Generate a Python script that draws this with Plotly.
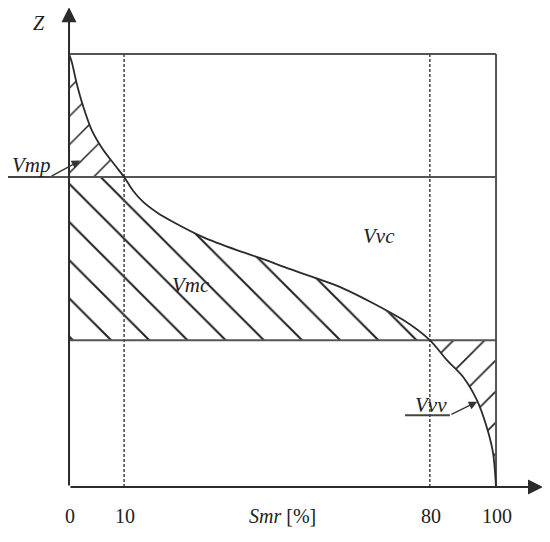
import plotly.graph_objects as go

# ---------------- data (diagram units: box spans 0..100 in both directions) ----------------
# Abbott-Firestone (bearing area) curve
curve_smr = [0, 0.63, 1.8, 3.35, 5.32, 8.03, 10.77, 12.9, 15.0, 17.3, 20.6, 24.4, 31.4, 39.3, 44.7,
             51.8, 63.9, 78.2, 84.5, 88.5, 92.3, 95.5, 97.8, 99.3, 100]
curve_z = [100, 98.2, 93.2, 87.8, 82.4, 77.8, 74.3, 71.6, 68.4, 65.9, 63.4, 61.2, 57.7, 54.7, 52.9,
           50.3, 46.0, 38.6, 33.9, 29.3, 25.4, 20.1, 13.9, 7.9, 0]

# schematic positions of the tick marks on the Smr axis and their labels
tick_pos = [0, 12.9, 84.5, 100]
tick_labels = ["0", "10", "80", "100"]
mr1_pos = 12.9   # Smr = 10 %
mr2_pos = 84.5   # Smr = 80 %

z_top = 100
z_vmp = 71.6
z_vvc = 33.9

region_labels = ["Vmp", "Vmc", "Vvc", "Vvv"]
region_label_pos = [(-8.9, 74.3), (28.6, 46.7), (72.6, 58.0), (84.8, 19.0)]

# page has an 8 px body margin -> ranges chosen so the box lands where it is in the picture
x_range = [-14.29, 112.64]
y_range = [-12.70, 110.62]
x_arrow_tip = 111.0
y_arrow_tip = 110.8

INK = "#2b2b2b"
BOX = "#555555"
FONT = "Liberation Serif"

fig = go.Figure()

pts = list(zip(curve_smr, curve_z))
i_vmp = curve_smr.index(mr1_pos)
i_vvc = curve_smr.index(mr2_pos)

# ---------------- hatched regions ----------------
def hatch(poly, shape, size):
    xs = [p[0] for p in poly] + [poly[0][0]]
    ys = [p[1] for p in poly] + [poly[0][1]]
    fig.add_trace(go.Scatter(
        x=xs, y=ys, mode="lines", fill="toself", line=dict(width=0, color="rgba(0,0,0,0)"),
        fillcolor="rgba(0,0,0,0)",
        fillpattern=dict(shape=shape, size=size, solidity=0.075, fgcolor="#222222",
                         bgcolor="rgba(0,0,0,0)", fillmode="replace"),
        hoverinfo="skip", showlegend=False))

# Vmp: above Smr 10% level, left of curve
hatch(pts[:i_vmp + 1] + [(0, z_vmp)], "/", 20)
# Vmc: between the two levels, left of curve
hatch([(0, z_vmp)] + pts[i_vmp:i_vvc + 1] + [(0, z_vvc)], "\\", 27)
# Vvv: below the 80% level, right of curve
hatch(pts[i_vvc:] + [(100, z_vvc)], "/", 22)

# ---------------- box, levels, dashed lines ----------------
def seg(x, y, color=BOX, width=2, dash=None):
    fig.add_trace(go.Scatter(x=x, y=y, mode="lines",
                             line=dict(color=color, width=width, dash=dash),
                             hoverinfo="skip", showlegend=False))

seg([0, 100], [z_top, z_top])
seg([100, 100], [0, z_top])
seg([-14.5, 100], [z_vmp, z_vmp])
seg([0, 100], [z_vvc, z_vvc])
seg([mr1_pos, mr1_pos], [0, z_top], color="#444444", width=1.5, dash="3px,2px")
seg([mr2_pos, mr2_pos], [0, z_top], color="#444444", width=1.5, dash="3px,2px")

# leader lines (horizontal part)
seg([-14.5, -4.45], [z_vmp, z_vmp], color="#444444", width=2)
seg([78.7, 89.2], [16.6, 16.6], color="#444444", width=2)

# ---------------- curve ----------------
fig.add_trace(go.Scatter(x=curve_smr, y=curve_z, mode="lines",
                         line=dict(color=INK, width=1.8, shape="spline", smoothing=0.8),
                         hoverinfo="skip", showlegend=False))

annotations = []

# axes with arrows
def arrow(x0, y0, x1, y1, width, size, color=INK):
    annotations.append(dict(x=x1, y=y1, ax=x0, ay=y0, xref="x", yref="y", axref="x", ayref="y",
                            text="", showarrow=True, arrowhead=2, arrowwidth=width,
                            arrowsize=size, arrowcolor=color, standoff=0, startstandoff=0))

arrow(0, 0, x_arrow_tip, 0, 2, 1.5)
arrow(0, 0, 0, y_arrow_tip, 2, 1.5)
# leader arrows
arrow(-4.45, z_vmp, 2.6, 75.4, 1.3, 1.3, "#333333")
arrow(89.2, 16.6, 95.6, 19.7, 1.3, 1.3, "#333333")

# text
annotations.append(dict(x=-7.0, y=107.2, xref="x", yref="y", text="<i>Z</i>", showarrow=False,
                        font=dict(family=FONT, size=20, color="#222")))
for lab, (lx, ly) in zip(region_labels, region_label_pos):
    annotations.append(dict(x=lx, y=ly, xref="x", yref="y", text="<i>" + lab + "</i>",
                            showarrow=False, font=dict(family=FONT, size=21, color="#222")))
for p, t in zip(tick_pos, tick_labels):
    annotations.append(dict(x=p + 0.3, y=-6.8, xref="x", yref="y", text=t, showarrow=False,
                            font=dict(family=FONT, size=20, color="#222")))
annotations.append(dict(x=50.1, y=-6.8, xref="x", yref="y", text="<i>Smr</i> [%]",
                        showarrow=False, font=dict(family=FONT, size=20, color="#222")))

fig.update_layout(
    width=542, height=534, margin=dict(l=0, r=0, t=0, b=0),
    paper_bgcolor="white", plot_bgcolor="white",
    xaxis=dict(range=x_range, visible=False, fixedrange=True),
    yaxis=dict(range=y_range, visible=False, fixedrange=True),
    annotations=annotations, showlegend=False,
)

fig.write_html("out.html")
